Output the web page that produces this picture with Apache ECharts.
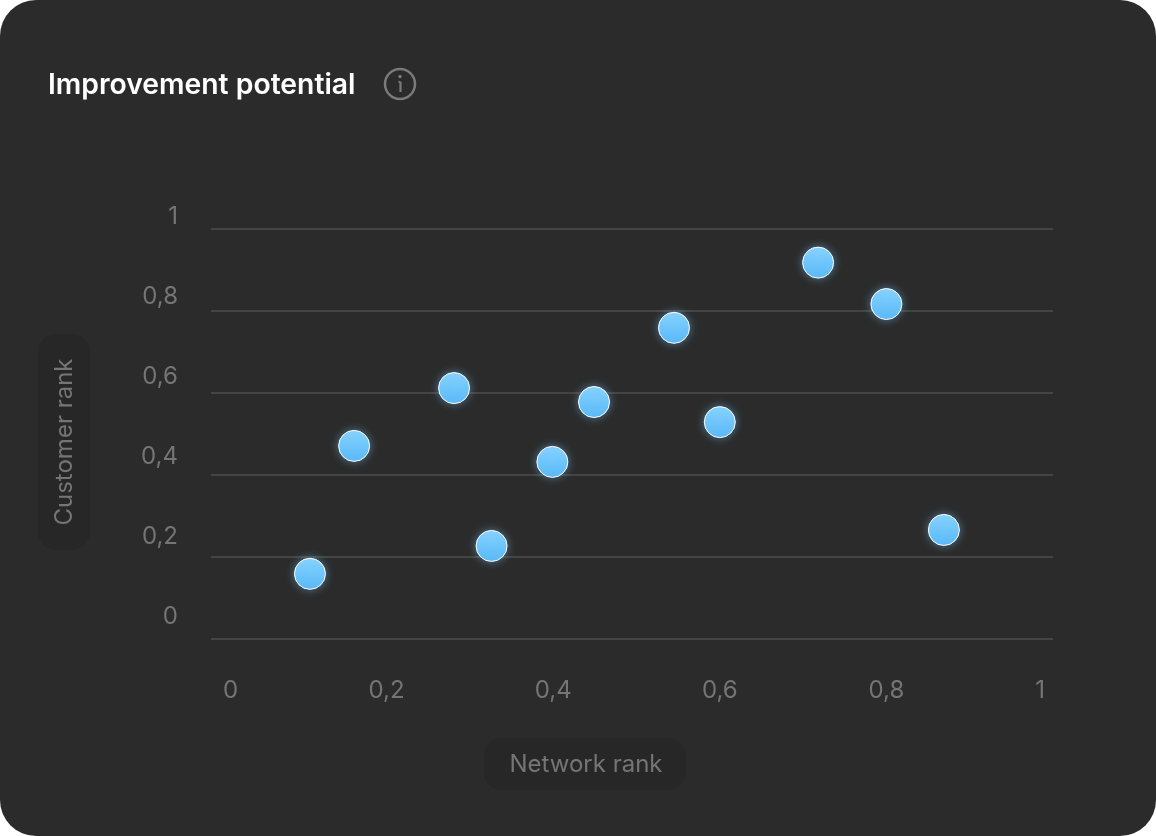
<!DOCTYPE html>
<html><head><meta charset="utf-8">
<script src="https://cdn.jsdelivr.net/npm/echarts@6/dist/echarts.min.js"></script>
<style>
html,body{margin:0;padding:0;background:#fff;width:1156px;height:836px;overflow:hidden}
#card{position:absolute;left:0;top:0;width:1156px;height:836px;background:#2b2b2b;border-radius:36px}
#c{width:1156px;height:836px}
</style></head><body>
<div id="card"><div id="c"></div></div>
<script>
const networkRank = [0.108,0.161,0.281,0.326,0.399,0.449,0.545,0.600,0.718,0.8,0.869];
const customerRank = [0.159,0.471,0.612,0.227,0.432,0.578,0.759,0.529,0.918,0.817,0.266];
const titleText = 'Improvement potential';
const xName = 'Network rank';
const yName = 'Customer rank';
const FONT = 'Inter, "Noto Sans", sans-serif';
const decimalComma = v => String(v).replace('.', ',');
const labelColor = '#757575';
const chart = echarts.init(document.getElementById('c'), null, {renderer:'canvas'});
chart.setOption({
  backgroundColor:'transparent',
  animation:false,
  grid:[
    {left:220,width:833,top:229,height:410},
    {left:211,width:842,top:229,height:410},
    {left:178,width:100,top:217,height:400}
  ],
  xAxis:[
    {gridIndex:0,type:'value',min:0,max:1,interval:0.2,
     axisLine:{show:false},axisTick:{show:false},splitLine:{show:false},
     axisLabel:{show:true,margin:40,color:labelColor,fontFamily:FONT,fontSize:24,
       alignMinLabel:'left',alignMaxLabel:'right',
       formatter:v=> v===0?'{a|0}': v===1?'{b|1}':decimalComma(v),
       rich:{a:{padding:[0,0,0,3],color:labelColor,fontFamily:FONT,fontSize:24},
             b:{padding:[0,8,0,0],color:labelColor,fontFamily:FONT,fontSize:24}}}},
    {gridIndex:1,type:'value',min:0,max:1,show:false},
    {gridIndex:2,type:'value',min:0,max:1,show:false}
  ],
  yAxis:[
    {gridIndex:0,type:'value',min:0,max:1,show:false},
    {gridIndex:1,type:'value',min:0,max:1,interval:0.2,
     axisLine:{show:false},axisTick:{show:false},axisLabel:{show:false},
     splitLine:{show:true,lineStyle:{color:'#444444',width:2}}},
    {gridIndex:2,type:'value',min:0,max:1,interval:0.2,
     axisLine:{show:false},axisTick:{show:false},splitLine:{show:false},
     axisLabel:{show:true,margin:0,color:labelColor,fontFamily:FONT,fontSize:24,
       formatter:v=>decimalComma(v)}}
  ],
  series:[{
    type:'scatter',xAxisIndex:0,yAxisIndex:0,symbol:'circle',symbolSize:31,
    data:networkRank.map((x,i)=>[x,customerRank[i]]),
    itemStyle:{opacity:1,
      color:new echarts.graphic.LinearGradient(0,0,0,1,[{offset:0,color:'#87d3ff'},{offset:1,color:'#58b8f7'}]),
      borderColor:'#ffffff',borderWidth:1,shadowBlur:10,shadowColor:'rgba(130,205,255,0.45)'}
  }],
  graphic:[
    {type:'text',left:48,top:71,style:{text:titleText,fill:'#ffffff',font:'600 28.3px '+FONT}},
    {type:'circle',shape:{cx:400,cy:84,r:15},style:{fill:'none',stroke:'#7a7a7a',lineWidth:2.5}},
    {type:'circle',shape:{cx:400,cy:76.5,r:1.7},style:{fill:'#7a7a7a'}},
    {type:'line',shape:{x1:398.5,y1:82,x2:400.5,y2:82},style:{stroke:'#7a7a7a',lineWidth:2.2}},
    {type:'line',shape:{x1:400.5,y1:82,x2:400.5,y2:92},style:{stroke:'#7a7a7a',lineWidth:2.2}},
    {type:'rect',shape:{x:484,y:738,width:202,height:52,r:18},style:{fill:'#272727'}},
    {type:'text',x:586,y:765,style:{text:xName,fill:labelColor,font:'400 24px '+FONT,align:'center',verticalAlign:'middle'}},
    {type:'rect',shape:{x:38,y:334,width:52,height:216,r:18},style:{fill:'#272727'}},
    {type:'text',x:65,y:442,rotation:Math.PI/2,style:{text:yName,fill:labelColor,font:'400 24px '+FONT,align:'center',verticalAlign:'middle'}}
  ]
});
</script></body></html>
